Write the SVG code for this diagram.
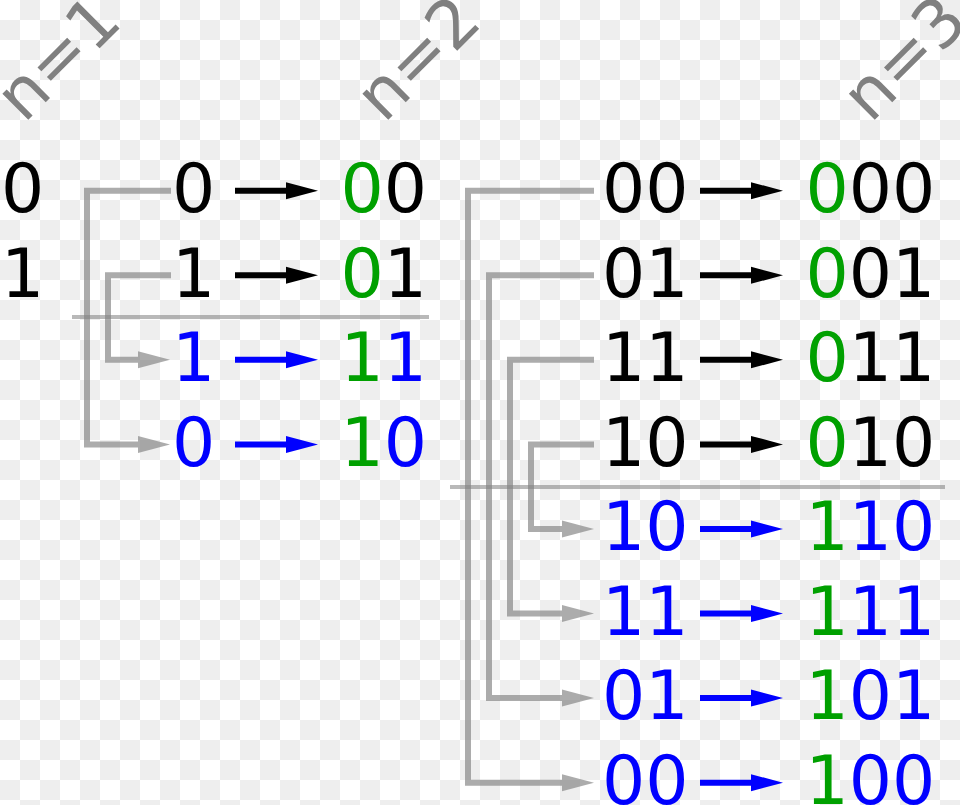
<svg xmlns="http://www.w3.org/2000/svg" width="960" height="805" viewBox="0 0 960 805">
<defs>
<pattern id="checker" patternUnits="userSpaceOnUse" width="40" height="40">
<rect width="40" height="40" fill="#ffffff"/>
<rect x="20" y="0" width="20" height="20" fill="#eeeeee"/>
<rect x="0" y="20" width="20" height="20" fill="#eeeeee"/>
</pattern>
<marker id="hk" markerUnits="userSpaceOnUse" markerWidth="33" markerHeight="18" refX="0" refY="8.5" orient="auto" overflow="visible"><path d="M0,0 L32,8.5 L0,17 z" fill="#000000"/></marker>
<marker id="hb" markerUnits="userSpaceOnUse" markerWidth="33" markerHeight="18" refX="0" refY="8.5" orient="auto" overflow="visible"><path d="M0,0 L32,8.5 L0,17 z" fill="#0000ff"/></marker>
<marker id="hg" markerUnits="userSpaceOnUse" markerWidth="33" markerHeight="18" refX="0" refY="8.5" orient="auto" overflow="visible"><path d="M0,0 L32,8.5 L0,17 z" fill="#808080" fill-opacity="0.65"/></marker>
</defs>
<style>
text{font-family:"DejaVu Sans","Liberation Sans",sans-serif;font-size:68px}
.k{fill:#000000}
.b{fill:#0000ff}
.g{fill:#00a000}
.lbl{fill:#808080;font-size:67px}
.ak{stroke:#000000;stroke-width:6;fill:none;marker-end:url(#hk)}
.ab{stroke:#0000ff;stroke-width:6;fill:none;marker-end:url(#hb)}
.cg{stroke:#808080;stroke-opacity:0.65;stroke-width:6;fill:none;marker-end:url(#hg)}
.sep{stroke:#808080;stroke-opacity:0.55;stroke-width:4;fill:none}
</style>
<rect width="960" height="805" fill="url(#checker)"/>

<g id="labels">
<text class="lbl" transform="translate(24,124) rotate(-45)">n=1</text>
<text class="lbl" transform="translate(384,124) rotate(-45)">n=2</text>
<text class="lbl" transform="translate(870.5,124) rotate(-45)">n=3</text>
</g>

<g id="connectors">
<line class="sep" x1="72" y1="317" x2="429" y2="317"/>
<line class="sep" x1="450" y1="487" x2="945" y2="487"/>
<path class="cg" d="M171,190.7 H87 V444.4 H138"/>
<path class="cg" d="M171,275.3 H108 V359.8 H138"/>
<path class="cg" d="M594,190.7 H468 V782.7 H562"/>
<path class="cg" d="M594,275.3 H489 V698.1 H562"/>
<path class="cg" d="M594,359.8 H510 V613.6 H562"/>
<path class="cg" d="M594,444.4 H531 V529 H562"/>
<line class="ak" x1="235" y1="190.7" x2="286" y2="190.7"/>
<line class="ak" x1="235" y1="275.3" x2="286" y2="275.3"/>
<line class="ab" x1="235" y1="359.8" x2="286" y2="359.8"/>
<line class="ab" x1="235" y1="444.4" x2="286" y2="444.4"/>
<line class="ak" x1="700" y1="190.7" x2="751" y2="190.7"/>
<line class="ak" x1="700" y1="275.3" x2="751" y2="275.3"/>
<line class="ak" x1="700" y1="359.8" x2="751" y2="359.8"/>
<line class="ak" x1="700" y1="444.4" x2="751" y2="444.4"/>
<line class="ab" x1="700" y1="529" x2="751" y2="529"/>
<line class="ab" x1="700" y1="613.6" x2="751" y2="613.6"/>
<line class="ab" x1="700" y1="698.1" x2="751" y2="698.1"/>
<line class="ab" x1="700" y1="782.7" x2="751" y2="782.7"/>
</g>

<g id="n1-0"><text class="k" x="1" y="212">0</text></g>
<g id="n1-1"><text class="k" x="1" y="296.6">1</text></g>

<g id="n2-src-0"><text class="k" x="172" y="212">0</text></g>
<g id="n2-src-1"><text class="k" x="172" y="296.6">1</text></g>
<g id="n2-src-1r"><text class="b" x="172" y="381.1">1</text></g>
<g id="n2-src-0r"><text class="b" x="172" y="465.7">0</text></g>
<g id="n2-00"><text x="340.5" y="212"><tspan class="g">0</tspan><tspan class="k">0</tspan></text></g>
<g id="n2-01"><text x="340.5" y="296.6"><tspan class="g">0</tspan><tspan class="k">1</tspan></text></g>
<g id="n2-11"><text x="340.5" y="381.1"><tspan class="g">1</tspan><tspan class="b">1</tspan></text></g>
<g id="n2-10"><text x="340.5" y="465.7"><tspan class="g">1</tspan><tspan class="b">0</tspan></text></g>

<g id="n3-src-00"><text class="k" x="602" y="212">00</text></g>
<g id="n3-src-01"><text class="k" x="602" y="296.6">01</text></g>
<g id="n3-src-11"><text class="k" x="602" y="381.1">11</text></g>
<g id="n3-src-10"><text class="k" x="602" y="465.7">10</text></g>
<g id="n3-src-10r"><text class="b" x="602" y="550.3">10</text></g>
<g id="n3-src-11r"><text class="b" x="602" y="634.9">11</text></g>
<g id="n3-src-01r"><text class="b" x="602" y="719.4">01</text></g>
<g id="n3-src-00r"><text class="b" x="602" y="804">00</text></g>
<g id="n3-000"><text x="805.5" y="212"><tspan class="g">0</tspan><tspan class="k">00</tspan></text></g>
<g id="n3-001"><text x="805.5" y="296.6"><tspan class="g">0</tspan><tspan class="k">01</tspan></text></g>
<g id="n3-011"><text x="805.5" y="381.1"><tspan class="g">0</tspan><tspan class="k">11</tspan></text></g>
<g id="n3-010"><text x="805.5" y="465.7"><tspan class="g">0</tspan><tspan class="k">10</tspan></text></g>
<g id="n3-110"><text x="805.5" y="550.3"><tspan class="g">1</tspan><tspan class="b">10</tspan></text></g>
<g id="n3-111"><text x="805.5" y="634.9"><tspan class="g">1</tspan><tspan class="b">11</tspan></text></g>
<g id="n3-101"><text x="805.5" y="719.4"><tspan class="g">1</tspan><tspan class="b">01</tspan></text></g>
<g id="n3-100"><text x="805.5" y="804"><tspan class="g">1</tspan><tspan class="b">00</tspan></text></g>
</svg>
